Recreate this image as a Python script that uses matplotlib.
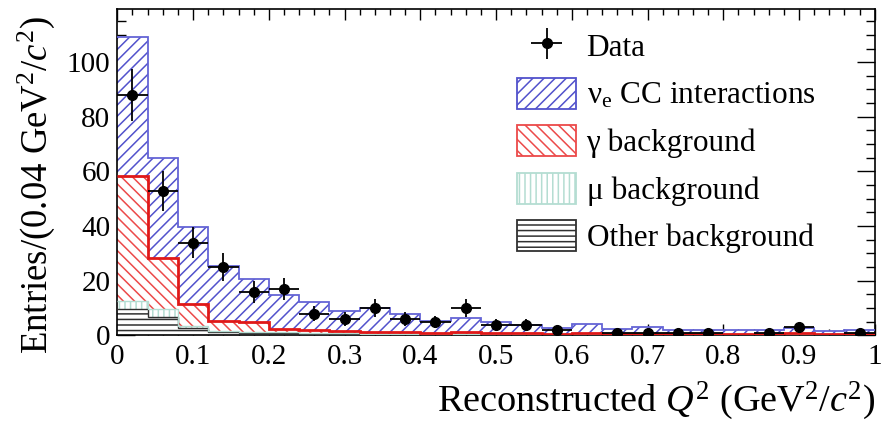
import numpy as np
import matplotlib
matplotlib.use("Agg")
import matplotlib.pyplot as plt
from matplotlib.patches import Patch
from matplotlib.ticker import MultipleLocator, FuncFormatter

plt.rcParams['font.family'] = ['Liberation Serif', 'DejaVu Serif']
plt.rcParams['mathtext.fontset'] = 'custom'
plt.rcParams['mathtext.rm'] = 'Liberation Serif'
plt.rcParams['mathtext.it'] = 'Liberation Serif:italic'
plt.rcParams['hatch.linewidth'] = 1.1

# Reconstructed Q^2 binning (GeV^2/c^2), 25 bins of 0.04
bin_edges = np.linspace(0.0, 1.0, 26)

# Observed entries per bin
data_counts = [88, 53, 34, 25, 16, 17, 8, 6, 10, 6, 5, 10, 4, 4, 2, 0, 1, 1, 1, 1, 0, 1, 3, 0, 1]

# Simulated components per bin
other_bkg = [9.6, 6.6, 2.8, 1.3, 1.0, 0.8, 0.6, 0.5, 0.4, 0.4, 0.3, 0.4, 0.3, 0.3, 0.2,
             0.3, 0.2, 0.2, 0.2, 0.2, 0.2, 0.2, 0.4, 0.2, 0.2]
mu_bkg = [3.0, 3.0, 0.8, 0.5, 0.4, 0.4, 0.4, 0.3, 0.3, 0.3, 0.2, 0.3, 0.2, 0.2, 0.2,
          0.2, 0.2, 0.2, 0.2, 0.2, 0.2, 0.2, 0.2, 0.2, 0.2]
gamma_bkg = [45.6, 18.9, 7.8, 3.4, 3.6, 1.2, 1.1, 0.9, 0.7, 0.7, 0.4, 0.7, 0.4, 0.3, 0.3,
             0.4, 0.3, 0.3, 0.2, 0.2, 0.2, 0.2, 0.3, 0.2, 0.2]
nue_cc = [51.0, 36.4, 28.1, 20.1, 15.5, 12.4, 10.3, 7.1, 8.8, 6.4, 4.3, 4.9, 4.1, 3.1, 2.0,
          3.3, 1.7, 2.5, 1.4, 1.3, 1.4, 1.3, 1.8, 1.0, 1.3]

labels = ['Data', 'ν$_{\\rm e}$ CC interactions', 'γ background',
          'μ background', 'Other background']

blue_hatch = '#5252cc'
blue_line = '#6464d6'
red_hatch = '#ec4a4a'
red_line = '#e01818'
mu_hatch = '#b4ddd2'
other_hatch = '#303030'

fig = plt.figure(figsize=(8.89, 4.23), dpi=100)
ax = fig.add_axes([0.132, 0.207, 0.852, 0.772])

c1 = np.array(other_bkg)
c2 = c1 + np.array(mu_bkg)
c3 = c2 + np.array(gamma_bkg)
c4 = c3 + np.array(nue_cc)
zero = np.zeros_like(c1)

components = [
    (c1, zero, other_hatch, '---', other_hatch, 1.0),
    (c2, c1, mu_hatch, '|||', mu_hatch, 1.0),
    (c3, c2, red_hatch, '\\\\\\', red_line, 2.0),
    (c4, c3, blue_hatch, '///', blue_line, 1.3),
]
for top, base, hcol, hatch, lcol, lw in components:
    ax.stairs(top, bin_edges, baseline=base, fill=True, facecolor='white',
              edgecolor=hcol, hatch=hatch, linewidth=0, zorder=2)
    ax.stairs(top, bin_edges, baseline=None, color=lcol, linewidth=lw, zorder=3)

counts = np.array(data_counts, dtype=float)
centers = 0.5 * (bin_edges[:-1] + bin_edges[1:])
half = 0.5 * np.diff(bin_edges)
m = counts > 0
eb = ax.errorbar(centers[m], counts[m], xerr=half[m], yerr=np.sqrt(counts[m]),
                 fmt='o', color='black', markersize=7, elinewidth=1.3,
                 capsize=0, zorder=5)

ax.set_xlim(0, 1)
ax.set_ylim(0, 119.5)
ax.xaxis.set_major_locator(MultipleLocator(0.1))
ax.xaxis.set_minor_locator(MultipleLocator(0.02))
ax.yaxis.set_major_locator(MultipleLocator(20))
ax.yaxis.set_minor_locator(MultipleLocator(5))
ax.xaxis.set_major_formatter(FuncFormatter(
    lambda v, p: '0' if abs(v) < 1e-9 else ('1' if abs(v - 1) < 1e-9 else f'{v:.1f}')))
ax.tick_params(axis='both', which='both', direction='in', top=True, right=True,
               labelsize=21, width=1.0, colors='black')
ax.tick_params(axis='x', which='major', length=8, pad=6)
ax.tick_params(axis='x', which='minor', length=4)
ax.tick_params(axis='y', which='major', length=13, pad=5)
ax.tick_params(axis='y', which='minor', length=6.5)
for s in ax.spines.values():
    s.set_linewidth(1.2)

ax.set_ylabel('Entries/(0.04 GeV$^2$/$c^2$)', fontsize=26.5)
ax.yaxis.set_label_coords(-0.08, 0.461)
ax.set_xlabel('Reconstructed $Q^2$ (GeV$^2$/$c^2$)', fontsize=27.5, loc='right', labelpad=7)

handles = [eb,
           Patch(facecolor='white', edgecolor=blue_hatch, hatch='///', linewidth=1.3),
           Patch(facecolor='white', edgecolor=red_hatch, hatch='\\\\\\', linewidth=1.3),
           Patch(facecolor='white', edgecolor=mu_hatch, hatch='|||', linewidth=1.3),
           Patch(facecolor='white', edgecolor=other_hatch, hatch='---', linewidth=1.3)]
ax.legend(handles, labels, loc='upper left', bbox_to_anchor=(0.5275, 0.935),
          frameon=False, fontsize=22.5, handlelength=1.9, handleheight=1.15,
          labelspacing=0.46, handletextpad=0.33, borderaxespad=0, borderpad=0)

fig.savefig('out.png', dpi=100)
